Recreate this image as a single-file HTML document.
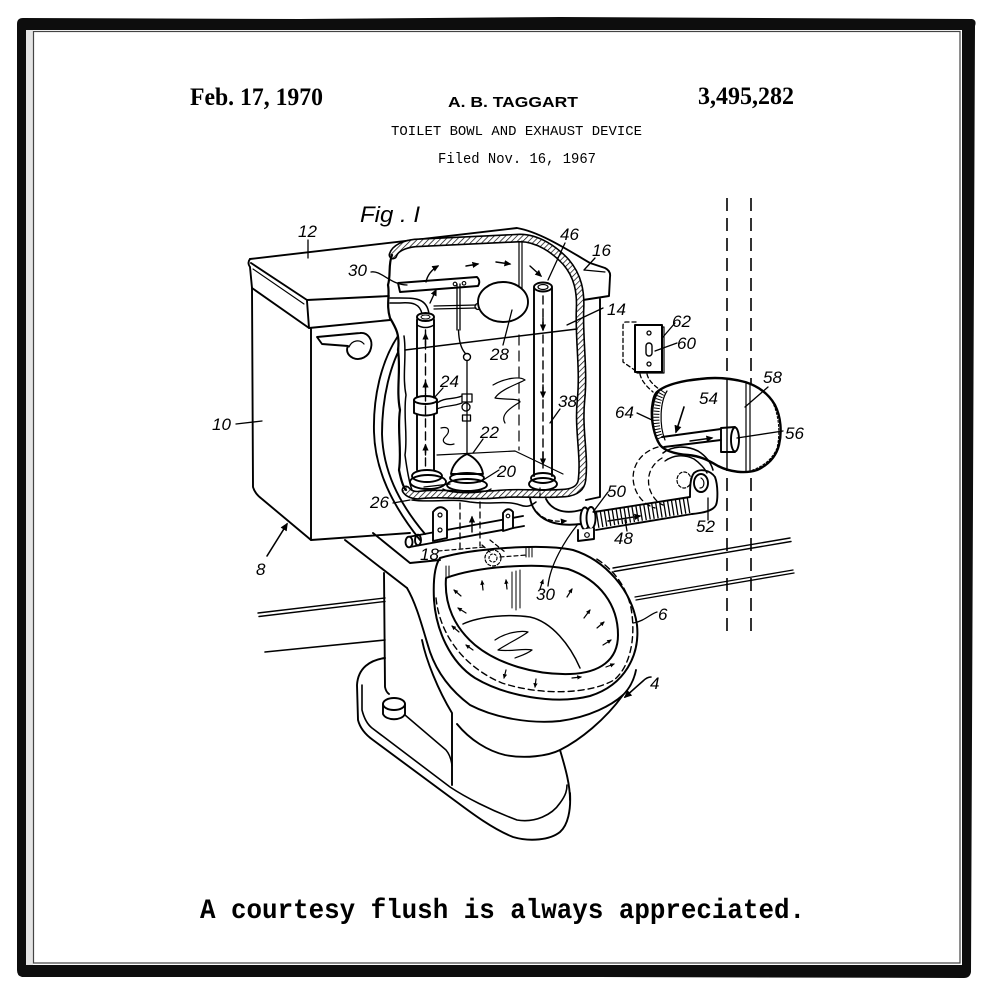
<!DOCTYPE html>
<html><head><meta charset="utf-8">
<style>
html,body{margin:0;padding:0;background:#fff;}
svg{display:block;}
</style></head><body>
<svg width="1000" height="1000" viewBox="0 0 1000 1000" xmlns="http://www.w3.org/2000/svg">
<defs>
<marker id="ah" viewBox="0 0 10 10" refX="8" refY="5" markerWidth="5" markerHeight="5" orient="auto"><path d="M0,0.5 L10,5 L0,9.5 Z" fill="#000"/></marker>
<marker id="ahs" viewBox="0 0 10 10" refX="8" refY="5" markerWidth="4" markerHeight="4" orient="auto"><path d="M0,0.5 L10,5 L0,9.5 Z" fill="#000"/></marker>
<pattern id="hatch" width="4" height="4" patternUnits="userSpaceOnUse" patternTransform="rotate(45)"><rect width="4" height="4" fill="#fff"/><line x1="0" y1="0" x2="0" y2="4" stroke="#000" stroke-width="1.4"/></pattern>
</defs>
<rect width="1000" height="1000" fill="#fff"/>

<!-- frame -->
<path fill-rule="evenodd" fill="#0d0d0d" d="M17,24 Q17,18 23,18 L300,19 L560,17 L972,19 Q977,20 975,26 L971,972 Q970,978 964,978 L600,977 L22,977 Q17,976 17,970 Z M26,30 L962,30 L962,965 L26,965 Z"/>
<rect x="26" y="30" width="7" height="935" fill="#e4e4e4"/>
<rect x="33.5" y="31.5" width="926.5" height="931.5" fill="none" stroke="#444" stroke-width="1.2"/>

<!-- header -->
<text x="190" y="105" font-family="Liberation Serif, serif" font-weight="bold" font-size="25" textLength="133" lengthAdjust="spacingAndGlyphs">Feb. 17, 1970</text>
<text x="448" y="107" font-family="Liberation Sans, sans-serif" font-weight="bold" font-size="15" textLength="130" lengthAdjust="spacingAndGlyphs">A. B. TAGGART</text>
<text x="698" y="104" font-family="Liberation Serif, serif" font-weight="bold" font-size="25" textLength="96" lengthAdjust="spacingAndGlyphs">3,495,282</text>
<text x="391" y="135" font-family="Liberation Mono, monospace" font-size="13.5" textLength="251" lengthAdjust="spacingAndGlyphs">TOILET BOWL AND EXHAUST DEVICE</text>
<text x="438" y="163" font-family="Liberation Mono, monospace" font-size="14.5" textLength="158" lengthAdjust="spacingAndGlyphs">Filed Nov. 16, 1967</text>

<!-- caption -->
<text x="200" y="918" font-family="Liberation Mono, monospace" font-weight="bold" font-size="28" textLength="605" lengthAdjust="spacingAndGlyphs">A courtesy flush is always appreciated.</text>

<g fill="none" stroke="#000" stroke-width="1.9" stroke-linecap="round" stroke-linejoin="round">

<!-- wall dashed lines -->
<path d="M727,198 L727,637 M751,198 L751,637" stroke-dasharray="13 7" stroke-width="1.6" stroke-linecap="butt"/>

<!-- floor / baseboard lines -->
<path d="M258,613 L385,598 M259,616.5 L385,601.5" stroke-width="1.4"/>
<path d="M265,652 L385,640" stroke-width="1.6"/>
<path d="M613,568 L790,538 M614,571.5 L791,541.5" stroke-width="1.4"/>
<path d="M635,597 L793,570 M636,600 L794,573" stroke-width="1.3"/>

<!-- TANK -->
<path d="M250,259 L517,228 C540,232 568,250 590,263 L605,268 Q611,271 610,277 L609,296 L583,300"/>
<path d="M250,259 Q247,263 250,267 L252,288"/>
<path d="M251,263 L307,300 L390,296"/>
<path d="M253,269 L304,304" stroke-width="1.1"/>
<path d="M252,288 L309,328 L390,320"/>
<path d="M307,301 L309,328"/>
<path d="M584,270 L605,272" stroke-width="1.2"/>
<path d="M252,288 L253,487 Q255,494 262,499 L311,540 L410,533"/>
<path d="M311,329 L311,540"/>
<path d="M600,299 L600,497 L586,500"/>
<!-- handle -->
<path d="M317,337 L360,333 C368,332 373,340 371,348 C369,357 360,361 353,358 C347,355 346,350 348,346 L322,344 Z"/>
<path d="M349,347 C352,340 360,339 364,344" stroke-width="1.2"/>

<!-- curved tube on tank front -->
<path d="M398,336 C382,360 373,395 374,432 C375,470 392,505 420,540"/>
<path d="M404,341 C390,364 382,398 382,434 C383,470 398,502 425,534"/>
<path d="M398,336 Q401,330 404,341"/>

<!-- cutaway white interior cover -->
<path d="M392,256 C400,246 415,244 430,243 L520,238 C540,238 556,250 567,263 C578,277 581,293 580,310 C579,340 584,370 581,400 C578,430 585,455 582,480 C581,490 570,494 560,494 L420,496 L405,490 C401,470 399,440 400,410 C398,380 401,350 398,335 C393,318 388,300 390,285 C388,270 390,262 392,256 Z" fill="#fff" stroke="none"/>

<!-- hatched tank wall -->
<path d="M393,255 C395,248 405,244 415,243 L520,238 C538,238 555,250 566,262 C578,276 581,292 580,310 C579,340 584,370 581,400 C578,430 585,455 582,480 C581,488 575,492 565,493 C540,495 520,492 500,494 C470,497 440,492 420,495 C413,496 408,493 406,490" stroke-width="9"/>
<path d="M393,255 C395,248 405,244 415,243 L520,238 C538,238 555,250 566,262 C578,276 581,292 580,310 C579,340 584,370 581,400 C578,430 585,455 582,480 C581,488 575,492 565,493 C540,495 520,492 500,494 C470,497 440,492 420,495 C413,496 408,493 406,490" stroke-width="5.8" stroke="url(#hatch)"/>

<!-- ragged left cut -->
<path d="M392,255 C388,265 391,275 388,285 C390,295 386,305 390,318 C396,328 400,335 398,350 C401,370 396,390 400,410 C397,430 402,450 399,470 C401,480 403,487 406,490" stroke-width="2.2"/>
<path d="M404,336 C407,355 402,375 406,395 C403,415 408,435 405,455 C407,470 409,482 412,490" stroke-width="1.5"/>

<!-- interior -->
<path d="M405,350 L577,329" stroke-width="1.5"/>
<path d="M519,242 L519,300 M522,241 L522,299" stroke-width="1.2"/>
<path d="M519,335 L519,450" stroke-width="1.2" stroke-dasharray="10 6"/>
<path d="M437,455 L515,451 L563,474" stroke-width="1.2"/>

<!-- fill valve tube 24 -->
<path d="M417,320 L417,470 M434,320 L434,470"/>
<ellipse cx="425.5" cy="317" rx="8.5" ry="4"/>
<path d="M417,317 L417,325 Q425.5,330 434,325 L434,317" stroke-width="1.4"/>
<ellipse cx="425.5" cy="317" rx="4.5" ry="2" stroke-width="1"/>
<path d="M414,400 L414,413 Q425.5,418 437,413 L437,400" fill="#fff"/>
<ellipse cx="425.5" cy="400" rx="11.5" ry="4" fill="#fff"/>
<ellipse cx="427" cy="476" rx="15" ry="6"/>
<ellipse cx="428" cy="482" rx="18" ry="7"/>
<path d="M425.5,466 L425.5,330" stroke-width="1.4" stroke-dasharray="8 5"/>
<path d="M425.5,345 L425.5,334" stroke-width="1.4" marker-end="url(#ah)"/>
<path d="M425.5,392 L425.5,382" stroke-width="1.4" marker-end="url(#ah)"/>
<path d="M425.5,455 L425.5,445" stroke-width="1.4" marker-end="url(#ah)"/>
<path d="M422,314 C420,304 413,302 400,303 L390,303" stroke-width="1.5"/>
<path d="M429,314 C427,298 415,298 400,298 L390,298" stroke-width="1.5"/>

<!-- float arm and ball -->
<path d="M434,306 L476,305 M434,309 L476,308" stroke-width="1.2"/>
<circle cx="478" cy="306.5" r="3" stroke-width="1.3"/>
<ellipse cx="503" cy="302" rx="25" ry="20" fill="#fff"/>

<!-- trip bar 30 -->
<path d="M398,283 L477,277 Q481,281 478,286 L400,292 Z" fill="#fff"/>
<circle cx="455" cy="284" r="1.8" stroke-width="1.1"/>
<circle cx="464" cy="283.3" r="1.8" stroke-width="1.1"/>
<path d="M457,284 L457,330 M460,284 L460,330" stroke-width="1.3"/>
<path d="M458.5,330 Q459,346 465,353" stroke-width="1.4"/>
<circle cx="467" cy="357" r="3.5" stroke-width="1.4"/>
<path d="M467,361 L467,453" stroke-width="1.3"/>
<path d="M437,403 C445,397 452,400 462,396 M437,409 C445,405 452,407 462,403" stroke-width="1.3"/>
<rect x="462" y="394" width="10" height="8" stroke-width="1.3"/>
<circle cx="466" cy="407" r="4" stroke-width="1.3"/>
<rect x="462.5" y="415" width="8" height="6" stroke-width="1.3"/>

<!-- flush ball -->
<path d="M467,454 C458,458 452,466 451,474 L483,474 C482,466 476,458 467,454 Z"/>
<ellipse cx="467" cy="478" rx="17" ry="5"/>
<ellipse cx="467" cy="485" rx="20" ry="6"/>
<path d="M443,489 C450,494 485,494 491,489" stroke-width="1.4"/>
<path d="M424,487 L450,484" stroke-width="1.3"/>

<!-- overflow tube 38 -->
<path d="M534,288 L534,476 M552,288 L552,476"/>
<ellipse cx="543" cy="287" rx="9" ry="4.5" fill="#fff"/>
<ellipse cx="543" cy="287" rx="5" ry="2.5" stroke-width="1.2"/>
<ellipse cx="543" cy="478" rx="12" ry="5"/>
<ellipse cx="543" cy="484" rx="14" ry="6"/>
<path d="M543,296 L543,468" stroke-width="1.4" stroke-dasharray="8 5"/>
<path d="M543,318 L543,330" stroke-width="1.4" marker-end="url(#ah)"/>
<path d="M543,385 L543,397" stroke-width="1.4" marker-end="url(#ah)"/>
<path d="M543,452 L543,464" stroke-width="1.4" marker-end="url(#ah)"/>

<!-- air arrows -->
<path d="M426,282 Q428,272 438,266" stroke-width="1.4" marker-end="url(#ah)"/>
<path d="M430,303 L436,290" stroke-width="1.4" marker-end="url(#ah)"/>
<path d="M466,266 L478,264" stroke-width="1.4" marker-end="url(#ah)"/>
<path d="M496,262 L510,264" stroke-width="1.4" marker-end="url(#ah)"/>
<path d="M530,266 L541,276" stroke-width="1.4" marker-end="url(#ah)"/>

<path d="M493,385 C505,378 520,376 525,380 C515,385 500,390 495,398 C505,400 520,398 520,402 C510,408 500,415 505,423" stroke-width="1.2"/>
<path d="M441,428 C449,426 451,431 445,437 C440,442 447,446 454,444" stroke-width="1.2"/>

<!-- hinge / tank bottom -->
<path d="M412,500 C430,503 450,498 470,502 C490,505 505,500 520,505 C528,508 532,505 536,502" stroke-width="1.5"/>
<path d="M408,537 L523,516 M410,547 L524,526"/>
<ellipse cx="409" cy="542" rx="3.5" ry="5.3" fill="#fff"/>
<ellipse cx="418" cy="540" rx="3" ry="5.3"/>
<path d="M433,512 Q440,503 447,511 L447,538 L433,541 Z" fill="#fff"/>
<circle cx="440" cy="515" r="2" stroke-width="1.2"/>
<circle cx="440" cy="530" r="2" stroke-width="1.2"/>
<path d="M503,513 Q508,506 513,512 L513,528 L503,531 Z" fill="#fff"/>
<circle cx="508" cy="516" r="1.8" stroke-width="1.1"/>
<path d="M460,503 L460,548 M480,502 L480,546" stroke-width="1.3" stroke-dasharray="6 4"/>
<path d="M472,532 L472,517" stroke-width="1.4" marker-end="url(#ah)"/>
<path d="M438,551 L485,547 M500,557 L527,555 M482,545 L490,552 M490,540 L505,552" stroke-width="1.2" stroke-dasharray="4 3"/>
<circle cx="493" cy="558" r="8" stroke-width="1.2" stroke-dasharray="3 2"/>
<circle cx="493" cy="558" r="4" stroke-width="1.1" stroke-dasharray="2 2"/>

<!-- elbow pipe to coupling -->
<path d="M540,488 L540,497" stroke-width="1.2" stroke-dasharray="3 2"/>
<path d="M530,498 C533,515 548,528 581,524"/>
<path d="M546,499 C551,509 563,515 581,510"/>
<path d="M537,512 C544,520 553,522 566,521" stroke-width="1.3" stroke-dasharray="4 3" marker-end="url(#ah)"/>
<ellipse cx="585" cy="518.5" rx="4.5" ry="11" fill="#fff"/>
<ellipse cx="591" cy="518" rx="4.5" ry="11" fill="#fff"/>
<path d="M578,530 L578,541 L594,539 L594,528" fill="#fff"/>
<circle cx="587" cy="535" r="2.3" stroke-width="1.2"/>

<!-- flex hose 48 -->
<path d="M597,520 L690,505" stroke-width="16" stroke-dasharray="1.3 2.7" stroke-linecap="butt"/>
<path d="M594,512 L690,497 M596,530 L692,514"/>
<path d="M608,521 L640,516" stroke-width="1.6" stroke="#fff"/>
<path d="M608,521 L640,516" stroke-width="1.4" marker-end="url(#ah)"/>

<!-- elbow 52 -->
<path d="M690,497 C690,488 690,478 694,473 C700,468 710,470 715,477 C718,485 718,500 716,505 C713,511 703,513 692,514" fill="#fff"/>
<ellipse cx="701" cy="483" rx="7" ry="9"/>
<path d="M701,478 C705,480 705,488 700,488" stroke-width="1.2"/>
<ellipse cx="684" cy="480" rx="7" ry="8" stroke-width="1.2" stroke-dasharray="3 2"/>
<path d="M658,447 C640,452 630,468 634,485 C637,497 645,505 655,508" stroke-width="1.3" stroke-dasharray="5 4"/>
<path d="M662,458 C650,465 646,478 650,490 C653,498 658,503 663,505" stroke-width="1.3" stroke-dasharray="5 4"/>

<!-- wall cutaway blob 58 -->
<path d="M657,392 C665,385 680,381 700,379 C715,377 730,378 745,382 C758,386 768,393 775,405 C781,417 782,432 779,445 C776,457 768,465 757,470 C745,474 730,472 718,466 C708,460 700,456 688,455 C675,454 665,451 660,445 C654,436 651,420 652,408 C653,400 654,395 657,392 Z" fill="#fff" stroke-width="2.4"/>
<path d="M770,398 C778,410 781,430 777,448 C772,460 762,467 750,471" stroke-width="1" stroke-dasharray="2 2"/>
<path d="M727,380 L727,470" stroke-width="1.4"/>
<path d="M746,384 L746,471 M750,385 L750,471" stroke-width="1.2"/>
<path d="M659,391 C651,402 650,425 658,441" stroke-width="1.4"/>
<path d="M667,391 C660,402 659,425 665,440" stroke-width="1.2"/>
<path d="M663,391 C655,402 654,425 661,440" stroke-width="6" stroke-dasharray="1 2" stroke-linecap="butt"/>
<path d="M662,437 L721,429 M664,447 L721,440"/>
<path d="M721,428 L735,427 M721,452 L735,452 M721,428 L721,452" fill="#fff"/>
<ellipse cx="735" cy="439.5" rx="4" ry="12" fill="#fff"/>
<path d="M690,441 L712,438" stroke-width="1.4" marker-end="url(#ah)"/>
<path d="M684,407 L676,432" stroke-width="1.6" marker-end="url(#ah)"/>
<path d="M663,453 C672,446 686,445 698,451 C706,456 711,463 713,470" stroke-width="1.6"/>
<path d="M665,461 C673,455 684,454 694,459 C700,463 705,469 707,473" stroke-width="1.4"/>

<!-- switch -->
<path d="M636,322 L626,322 Q623,322 623,326 L623,362 L636,371" stroke-width="1.3" stroke-dasharray="4 3"/>
<rect x="635" y="325" width="27" height="47" fill="#fff" stroke-width="2"/>
<path d="M662,327 L664,327 L664,373 L637,373" stroke-width="1.2"/>
<circle cx="649" cy="333" r="2" stroke-width="1.3"/>
<circle cx="649" cy="364" r="2" stroke-width="1.3"/>
<rect x="646" y="343" width="6" height="13" rx="3" stroke-width="1.4"/>
<path d="M640,374 C641,380 646,386 653,392 M647,374 C648,379 652,384 659,389" stroke-width="1.3" stroke-dasharray="4 3"/>

<!-- BOWL -->
<path d="M345,540 L407,588"/>
<path d="M373,533 L410,563 L440,560"/>
<path d="M407,588 C417,605 423,630 430,652 C437,672 450,690 470,705 C495,718 530,724 560,721 C590,717 612,705 623,695 C630,688 634,680 636,670"/>
<path d="M440,558 C470,549 540,543 573,550 C605,560 632,590 637,625 C640,655 625,685 590,696 C555,705 505,696 475,678 C450,662 436,630 434,600 C433,580 435,565 440,558 Z" stroke-width="2"/>
<path d="M446,578 C475,567 535,562 568,569 C600,580 618,605 618,635 C618,660 600,673 570,674 C535,675 498,664 475,645 C455,628 444,605 446,578 Z" stroke-width="2"/>
<path d="M436,598 C440,637 466,668 502,683 C542,696 590,694 614,680 C631,666 636,636 631,608 C626,585 612,568 595,558" stroke-width="1.4" stroke-dasharray="6 4"/>
<path d="M463,624 C480,616 510,614 530,617 C552,622 570,645 580,668" stroke-width="1.5"/>
<path d="M495,640 C505,633 520,630 528,632 C520,638 505,645 498,650 C510,652 523,648 532,650 C527,654 520,656 515,658" stroke-width="1.2"/>
<path d="M512,572 L512,608 M516,571 L516,610 M520,570 L520,608" stroke-width="1"/>
<path d="M526,548 L526,557 M529,548 L529,557 M532,548 L532,557" stroke-width="1"/>
<path d="M446,566 L446,577 M449,566 L449,577" stroke-width="1"/>
<g stroke-width="1.2">
<path d="M461,596 L454,590" marker-end="url(#ahs)"/>
<path d="M483,590 L482,581" marker-end="url(#ahs)"/>
<path d="M507,589 L506,580" marker-end="url(#ahs)"/>
<path d="M540,589 L543,580" marker-end="url(#ahs)"/>
<path d="M567,597 L572,589" marker-end="url(#ahs)"/>
<path d="M584,618 L590,610" marker-end="url(#ahs)"/>
<path d="M597,628 L604,622" marker-end="url(#ahs)"/>
<path d="M603,645 L611,640" marker-end="url(#ahs)"/>
<path d="M466,613 L458,608" marker-end="url(#ahs)"/>
<path d="M459,632 L452,626" marker-end="url(#ahs)"/>
<path d="M473,650 L466,645" marker-end="url(#ahs)"/>
<path d="M506,670 L504,678" marker-end="url(#ahs)"/>
<path d="M536,679 L535,687" marker-end="url(#ahs)"/>
<path d="M572,678 L581,677" marker-end="url(#ahs)"/>
<path d="M606,667 L614,664" marker-end="url(#ahs)"/>
</g>
<!-- bowl body / pedestal -->
<path d="M457,724 C470,740 488,751 505,755 C525,759 548,756 560,750"/>
<path d="M623,695 C605,720 580,740 560,750"/>
<path d="M560,750 C566,770 570,785 570,800"/>
<path d="M422,640 C426,660 438,690 452,713 L452,785"/>
<path d="M384,573 L385,687 Q386,692 389,694"/>
<!-- foot -->
<path d="M385,658 C370,660 358,668 357,685 L358,720 C360,728 366,735 373,740 L450,797 C465,808 490,828 513,837 C530,842 550,840 560,832 C568,825 571,810 570,793"/>
<path d="M362,685 L362,710 C364,718 367,724 372,728 L450,787 C465,797 490,810 517,820 C535,823 552,815 560,803 C566,795 567,790 567,785" stroke-width="1.6"/>
<path d="M405,715 L446,750 Q451,756 452,766" stroke-width="1.5"/>
<ellipse cx="394" cy="704" rx="11" ry="6" fill="#fff"/>
<path d="M383,704 L383,714 C386,721 402,721 405,714 L405,704"/>

<!-- leaders -->
<g stroke-width="1.3">
<path d="M308,240 L308,258"/>
<path d="M371,272 C381,270 391,285 407,285"/>
<path d="M565,243 L548,280"/>
<path d="M595,258 L584,270"/>
<path d="M603,308 L567,325"/>
<path d="M503,345 L512,310"/>
<path d="M443,388 L434,398"/>
<path d="M560,409 L550,423"/>
<path d="M483,439 L473,453"/>
<path d="M499,470 L480,482"/>
<path d="M393,503 L410,500"/>
<path d="M236,424 L262,421"/>
<path d="M608,492 L593,512"/>
<path d="M627,531 L625,520"/>
<path d="M708,520 L708,498"/>
<path d="M675,323 L663,337"/>
<path d="M677,343 L655,351"/>
<path d="M768,387 L745,407"/>
<path d="M637,413 L652,420"/>
<path d="M783,431 L737,438"/>
<path d="M657,612 C650,614 645,621 633,623"/>
<path d="M548,586 C550,565 565,540 578,524"/>
<path d="M267,556 L287,524" stroke-width="1.6" marker-end="url(#ah)"/>
<path d="M651,677 C648,677 645,679 643,681 L625,697" stroke-width="1.6" marker-end="url(#ah)"/>
</g>
</g>

<!-- labels -->
<g font-family="Liberation Sans, sans-serif" font-style="italic" font-size="17" fill="#000">
<text x="360" y="222" font-size="22" textLength="60" lengthAdjust="spacingAndGlyphs">Fig . I</text>
<text x="298" y="237">12</text>
<text x="348" y="276">30</text>
<text x="560" y="240">46</text>
<text x="592" y="256">16</text>
<text x="607" y="315">14</text>
<text x="490" y="360">28</text>
<text x="440" y="387">24</text>
<text x="558" y="407">38</text>
<text x="480" y="438">22</text>
<text x="497" y="477">20</text>
<text x="370" y="508">26</text>
<text x="212" y="430">10</text>
<text x="607" y="497">50</text>
<text x="256" y="575">8</text>
<text x="420" y="560">18</text>
<text x="536" y="600">30</text>
<text x="614" y="544">48</text>
<text x="696" y="532">52</text>
<text x="672" y="327">62</text>
<text x="677" y="349">60</text>
<text x="763" y="383">58</text>
<text x="699" y="404">54</text>
<text x="615" y="418">64</text>
<text x="785" y="439">56</text>
<text x="658" y="620">6</text>
<text x="650" y="689">4</text>
</g>
</svg>
</body></html>
